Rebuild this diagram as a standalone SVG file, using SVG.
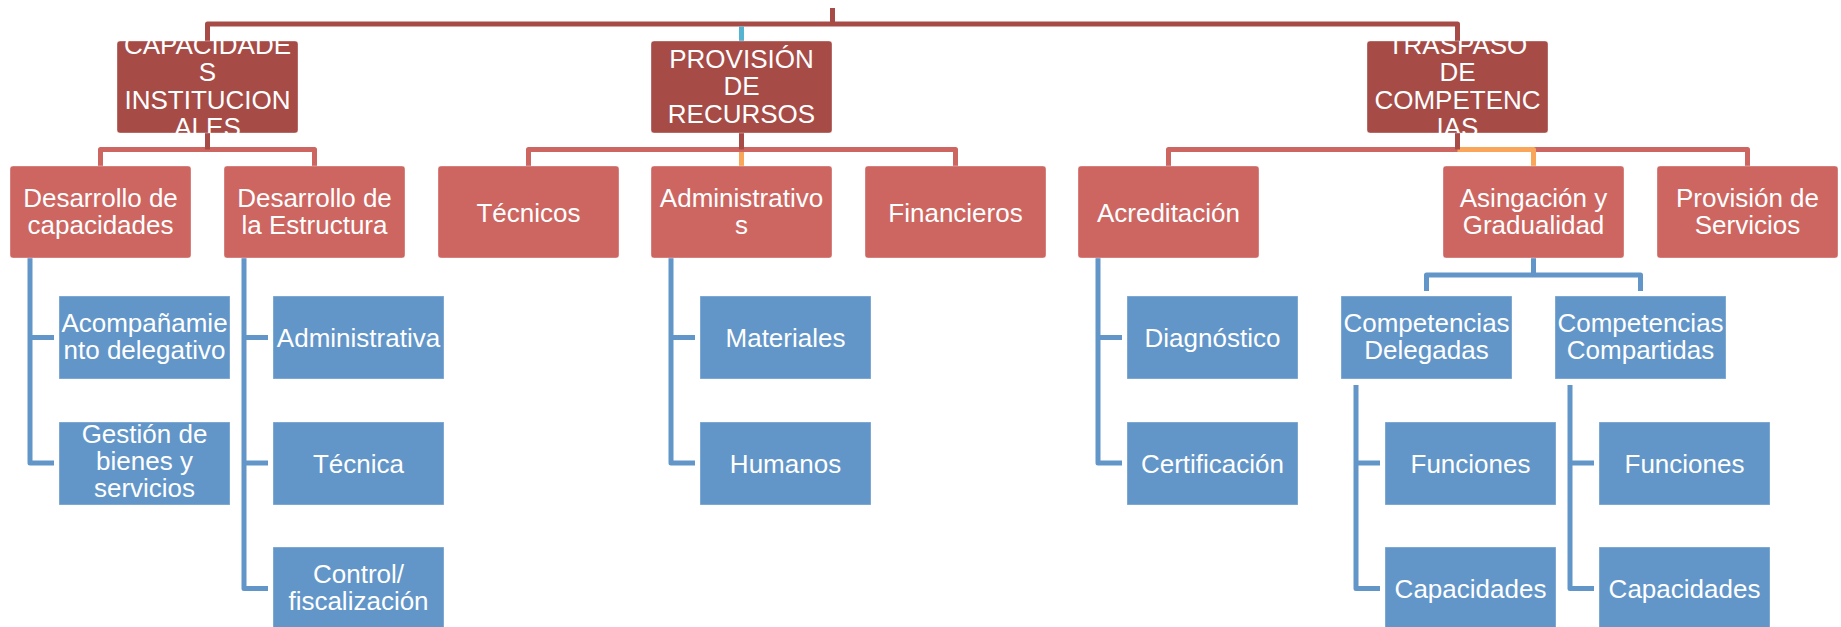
<svg xmlns="http://www.w3.org/2000/svg" width="1841" height="627" viewBox="0 0 1841 627">
<style>
.l0{fill:#A64B46;stroke:#ffffff;stroke-opacity:0.35;stroke-width:1}
.l1{fill:#CD6661;stroke:#ffffff;stroke-opacity:0.35;stroke-width:1}
.l2{fill:#6296C9;stroke:#ffffff;stroke-opacity:0.35;stroke-width:1}
text{font-family:"Liberation Sans",Arial,sans-serif;font-size:26px;fill:#ffffff;text-anchor:middle}
.c{fill:none;stroke-width:5;stroke-linejoin:round}
.cd{stroke:#A64B46}
.cl{stroke:#CD6661}
.co{stroke:#F9A65A}
.cc{stroke:#56B4D3}
.cb{stroke:#6296C9}
</style>
<defs>
<clipPath id="clipCap"><rect x="117" y="41" width="181" height="92" rx="3"/></clipPath>
<clipPath id="clipTrasp"><rect x="1367" y="41" width="181" height="92" rx="3"/></clipPath>
</defs>
<rect width="1841" height="627" fill="#ffffff"/>
<g id="connectors">
<path class="c cd" d="M832.5 8 V24"/>
<path class="c cd" d="M207.5 41 V24 H1457.5 V41"/>
<path class="c cc" d="M741.5 26.5 V41"/>
<path class="c cl" d="M100.5 166 V149.5 H314.5 V166"/>
<path class="c cd" d="M207.5 133 V149.5"/>
<path class="c cl" d="M528.5 166 V149.5 H955.5 V166"/>
<path class="c cd" d="M741.5 133 V149.5"/>
<path class="c co" d="M741.5 152 V166"/>
<path class="c cl" d="M1168.5 166 V149.5 H1747.5 V166"/>
<path class="c co" d="M1457.5 149.5 H1533.5 V166"/>
<path class="c cd" d="M1457.5 133 V149.5"/>
<path class="c cb" d="M30 258 V463 H54 M30 337.5 H54"/>
<path class="c cb" d="M244 258 V588.5 H268 M244 337.5 H268 M244 463 H268"/>
<path class="c cb" d="M671 258 V463 H695 M671 337.5 H695"/>
<path class="c cb" d="M1098 258 V463 H1122 M1098 337.5 H1122"/>
<path class="c cb" d="M1533.5 258 V275 M1426.5 291 V275 H1640.5 V291"/>
<path class="c cb" d="M1356 385 V588.5 H1380 M1356 463 H1380"/>
<path class="c cb" d="M1570 385 V588.5 H1594 M1570 463 H1594"/>
</g>
<g id="n_cap"><rect class="l0" x="117" y="41" width="181" height="92" rx="3"/><g clip-path="url(#clipCap)"><text x="207.5" y="53.5">CAPACIDADE</text><text x="207.5" y="81">S</text><text x="207.5" y="108.5">INSTITUCION</text><text x="207.5" y="136">ALES</text></g></g>
<g id="n_prov"><rect class="l0" x="651" y="41" width="181" height="92" rx="3"/><text x="741.5" y="67.5">PROVISIÓN</text><text x="741.5" y="95">DE</text><text x="741.5" y="122.5">RECURSOS</text></g>
<g id="n_trasp"><rect class="l0" x="1367" y="41" width="181" height="92" rx="3"/><g clip-path="url(#clipTrasp)"><text x="1457.5" y="53.5">TRASPASO</text><text x="1457.5" y="81">DE</text><text x="1457.5" y="108.5">COMPETENC</text><text x="1457.5" y="136">IAS</text></g></g>
<g id="n_desCap"><rect class="l1" x="10" y="166" width="181" height="92" rx="3"/><text x="100.5" y="207">Desarrollo de</text><text x="100.5" y="234">capacidades</text></g>
<g id="n_desEst"><rect class="l1" x="224" y="166" width="181" height="92" rx="3"/><text x="314.5" y="207">Desarrollo de</text><text x="314.5" y="234">la Estructura</text></g>
<g id="n_tec"><rect class="l1" x="438" y="166" width="181" height="92" rx="3"/><text x="528.5" y="221.5">Técnicos</text></g>
<g id="n_adm"><rect class="l1" x="651" y="166" width="181" height="92" rx="3"/><text x="741.5" y="207">Administrativo</text><text x="741.5" y="234">s</text></g>
<g id="n_fin"><rect class="l1" x="865" y="166" width="181" height="92" rx="3"/><text x="955.5" y="221.5">Financieros</text></g>
<g id="n_acr"><rect class="l1" x="1078" y="166" width="181" height="92" rx="3"/><text x="1168.5" y="221.5">Acreditación</text></g>
<g id="n_asig"><rect class="l1" x="1443" y="166" width="181" height="92" rx="3"/><text x="1533.5" y="207">Asingación y</text><text x="1533.5" y="234">Gradualidad</text></g>
<g id="n_provS"><rect class="l1" x="1657" y="166" width="181" height="92" rx="3"/><text x="1747.5" y="207">Provisión de</text><text x="1747.5" y="234">Servicios</text></g>
<g id="n_acomp"><rect class="l2" x="59" y="296" width="171" height="83"/><text x="144.5" y="332">Acompañamie</text><text x="144.5" y="359">nto delegativo</text></g>
<g id="n_gest"><rect class="l2" x="59" y="422" width="171" height="83"/><text x="144.5" y="443">Gestión de</text><text x="144.5" y="470">bienes y</text><text x="144.5" y="497">servicios</text></g>
<g id="n_admva"><rect class="l2" x="273" y="296" width="171" height="83"/><text x="358.5" y="347">Administrativa</text></g>
<g id="n_tecnica"><rect class="l2" x="273" y="422" width="171" height="83"/><text x="358.5" y="472.5">Técnica</text></g>
<g id="n_control"><rect class="l2" x="273" y="547" width="171" height="83"/><text x="358.5" y="583">Control/</text><text x="358.5" y="610">fiscalización</text></g>
<g id="n_mat"><rect class="l2" x="700" y="296" width="171" height="83"/><text x="785.5" y="347">Materiales</text></g>
<g id="n_hum"><rect class="l2" x="700" y="422" width="171" height="83"/><text x="785.5" y="472.5">Humanos</text></g>
<g id="n_diag"><rect class="l2" x="1127" y="296" width="171" height="83"/><text x="1212.5" y="347">Diagnóstico</text></g>
<g id="n_cert"><rect class="l2" x="1127" y="422" width="171" height="83"/><text x="1212.5" y="472.5">Certificación</text></g>
<g id="n_compDel"><rect class="l2" x="1341" y="296" width="171" height="83"/><text x="1426.5" y="332">Competencias</text><text x="1426.5" y="359">Delegadas</text></g>
<g id="n_compComp"><rect class="l2" x="1555" y="296" width="171" height="83"/><text x="1640.5" y="332">Competencias</text><text x="1640.5" y="359">Compartidas</text></g>
<g id="n_funcD"><rect class="l2" x="1385" y="422" width="171" height="83"/><text x="1470.5" y="472.5">Funciones</text></g>
<g id="n_capD"><rect class="l2" x="1385" y="547" width="171" height="83"/><text x="1470.5" y="598">Capacidades</text></g>
<g id="n_funcC"><rect class="l2" x="1599" y="422" width="171" height="83"/><text x="1684.5" y="472.5">Funciones</text></g>
<g id="n_capC"><rect class="l2" x="1599" y="547" width="171" height="83"/><text x="1684.5" y="598">Capacidades</text></g>
</svg>
